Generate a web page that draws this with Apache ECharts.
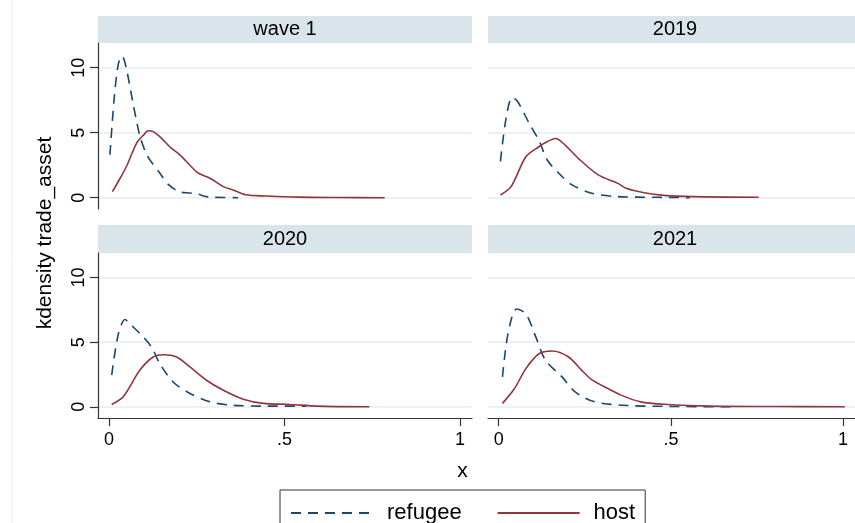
<!DOCTYPE html>
<html>
<head>
<meta charset="utf-8">
<script src="https://cdn.jsdelivr.net/npm/echarts@6/dist/echarts.min.js"></script>
<style>
  html, body { margin: 0; padding: 0; background: #ffffff; }
  #chart { width: 855px; height: 523px; }
</style>
</head>
<body>
<div id="chart"></div>
<script>
// Panel titles and axis ticks
const panelTitles = ['wave 1', '2019', '2020', '2021'];
const xTicks = [0, 0.5, 1];
const yTicks = [0, 5, 10];
const seriesNames = ['refugee', 'host'];

// Kernel density estimates of trade_asset, [x, density]
const refugeeWave1 = [[0.003,3.3],[0.015,7.6],[0.027,10.3],[0.038,10.9],[0.05,9.9],[0.07,7.1],[0.088,4.8],[0.11,3.2],[0.145,1.9],[0.17,1.0],[0.2,0.46],[0.23,0.36],[0.25,0.3],[0.278,0.08],[0.3,0.03],[0.368,0.0]];
const hostWave1 = [[0.01,0.46],[0.03,1.4],[0.05,2.4],[0.079,4.2],[0.098,4.8],[0.112,5.15],[0.125,5.1],[0.145,4.7],[0.174,3.9],[0.202,3.3],[0.231,2.5],[0.254,1.9],[0.288,1.5],[0.326,0.85],[0.354,0.6],[0.39,0.22],[0.45,0.13],[0.54,0.04],[0.65,0.01],[0.786,0.0]];

const refugee2019 = [[0.005,2.8],[0.022,6.2],[0.039,7.7],[0.055,7.4],[0.089,5.7],[0.117,4.4],[0.141,2.9],[0.174,1.9],[0.212,1.0],[0.27,0.34],[0.346,0.08],[0.46,0.03],[0.555,0.0]];
const host2019 = [[0.005,0.21],[0.036,0.85],[0.079,3.15],[0.117,3.92],[0.14,4.3],[0.165,4.55],[0.193,4.05],[0.231,3.03],[0.289,1.75],[0.346,1.1],[0.37,0.72],[0.422,0.38],[0.479,0.18],[0.565,0.08],[0.755,0.03]];

const refugee2020 = [[0.008,2.44],[0.027,5.64],[0.046,6.75],[0.065,6.28],[0.098,5.4],[0.122,4.6],[0.145,3.34],[0.183,1.92],[0.231,1.03],[0.288,0.38],[0.345,0.13],[0.44,0.05],[0.563,0.05]];
const host2020 = [[0.008,0.18],[0.041,0.77],[0.088,2.82],[0.126,3.85],[0.155,4.03],[0.193,3.85],[0.231,3.08],[0.278,2.05],[0.326,1.28],[0.383,0.59],[0.44,0.26],[0.516,0.18],[0.592,0.05],[0.742,0.0]];

const refugee2021 = [[0.011,2.31],[0.027,5.64],[0.052,7.57],[0.079,7.18],[0.108,5.39],[0.136,3.59],[0.184,2.31],[0.222,1.15],[0.279,0.38],[0.374,0.1],[0.5,0.03],[0.679,0.0]];
const host2021 = [[0.011,0.26],[0.046,1.41],[0.079,2.95],[0.117,4.1],[0.155,4.31],[0.203,3.85],[0.241,2.82],[0.27,2.1],[0.317,1.41],[0.355,0.9],[0.412,0.38],[0.489,0.18],[0.612,0.05],[0.8,0.02],[1.005,0.0]];

const refugeeByPanel = [refugeeWave1, refugee2019, refugee2020, refugee2021];
const hostByPanel = [hostWave1, host2019, host2020, host2021];

// ---- styling / layout ----
const FONT = '"Liberation Sans", Arial, sans-serif';
const NAVY = '#1a476f';
const MAROON = '#90353b';
const STRIP = '#d9e5eb';
const GRID = '#e6eef1';
const AXIS = '#333333';
const PANEL_W = 374;
const panels = [
  { left: 98,  top: 43,  height: 166, stripTop: 16,  stripH: 27, leftCol: true,  bottomRow: false },
  { left: 488, top: 43,  height: 166, stripTop: 16,  stripH: 27, leftCol: false, bottomRow: false },
  { left: 98,  top: 253, height: 165, stripTop: 225, stripH: 28, leftCol: true,  bottomRow: true },
  { left: 488, top: 253, height: 165, stripTop: 225, stripH: 28, leftCol: false, bottomRow: true }
];

const tickFmt = v => (v === 0 ? '0' : String(v).replace(/^0\./, '.'));

const grids = [], xAxes = [], yAxes = [], series = [], graphics = [];

panels.forEach((p, i) => {
  grids.push({ left: p.left, top: p.top, width: PANEL_W, height: p.height, containLabel: false });

  xAxes.push({
    type: 'value', gridIndex: i, min: -0.031, max: 1.0345,
    axisLine: { show: p.bottomRow, onZero: false, lineStyle: { color: AXIS, width: 1.2 } },
    axisTick: { show: p.bottomRow, length: 8, customValues: xTicks, lineStyle: { color: AXIS, width: 1.2 } },
    axisLabel: { show: p.bottomRow, customValues: xTicks, formatter: tickFmt, margin: 13,
                 color: '#000', fontFamily: FONT, fontSize: 18 },
    splitLine: { show: false }
  });

  yAxes.push({
    type: 'value', gridIndex: i, min: -0.87, max: 11.9,
    axisLine: { show: p.leftCol, onZero: false, lineStyle: { color: AXIS, width: 1.2 } },
    axisTick: { show: p.leftCol, length: 8, customValues: yTicks, lineStyle: { color: AXIS, width: 1.2 } },
    axisLabel: { show: p.leftCol, customValues: yTicks, rotate: 90, margin: 10,
                 color: '#000', fontFamily: FONT, fontSize: 18 },
    splitLine: { show: true, lineStyle: { color: GRID, width: 1.6 } }
  });

  series.push({
    name: seriesNames[0], type: 'line', xAxisIndex: i, yAxisIndex: i,
    data: refugeeByPanel[i], showSymbol: false, symbol: 'none', smooth: 0.3,
    lineStyle: { color: NAVY, width: 1.6, type: [10, 7] }, itemStyle: { color: NAVY },
    z: 3
  });
  series.push({
    name: seriesNames[1], type: 'line', xAxisIndex: i, yAxisIndex: i,
    data: hostByPanel[i], showSymbol: false, symbol: 'none', smooth: 0.3,
    lineStyle: { color: MAROON, width: 1.6 }, itemStyle: { color: MAROON },
    z: 4
  });

  // panel header strip with the panel title
  graphics.push({
    type: 'rect', shape: { x: p.left, y: p.stripTop, width: PANEL_W, height: p.stripH },
    style: { fill: STRIP }, silent: true
  });
  graphics.push({
    type: 'text', x: p.left + PANEL_W / 2, y: p.stripTop + p.stripH / 2,
    style: { text: panelTitles[i], fill: '#000', font: '20px ' + FONT, textAlign: 'center', textVerticalAlign: 'middle' },
    silent: true
  });
});

// shared axis titles
graphics.push({
  type: 'text', x: 45, y: 233, rotation: Math.PI / 2,
  style: { text: 'kdensity trade_asset', fill: '#000', font: '21px ' + FONT, textAlign: 'center', textVerticalAlign: 'middle' },
  silent: true
});
graphics.push({
  type: 'text', x: 462.5, y: 471,
  style: { text: 'x', fill: '#000', font: '21px ' + FONT, textAlign: 'center', textVerticalAlign: 'middle' },
  silent: true
});
// outer edge of the graph region
graphics.push({
  type: 'line', shape: { x1: 12, y1: 0, x2: 12, y2: 523 },
  style: { stroke: '#ebebeb', lineWidth: 1 }, silent: true
});

const chart = echarts.init(document.getElementById('chart'), null, { renderer: 'canvas' });
chart.setOption({
  backgroundColor: '#ffffff',
  animation: false,
  grid: grids,
  xAxis: xAxes,
  yAxis: yAxes,
  series: series,
  legend: {
    data: seriesNames,
    left: 280, top: 490,
    orient: 'horizontal',
    itemWidth: 82, itemHeight: 14, itemGap: 35,
    padding: [12, 10, 30, 10],
    borderColor: '#333', borderWidth: 1,
    itemStyle: { opacity: 0 },
    textStyle: { color: '#000', fontFamily: FONT, fontSize: 22, padding: [0, 0, 0, 9] },
    selectedMode: false
  },
  graphic: graphics
});
</script>
</body>
</html>
